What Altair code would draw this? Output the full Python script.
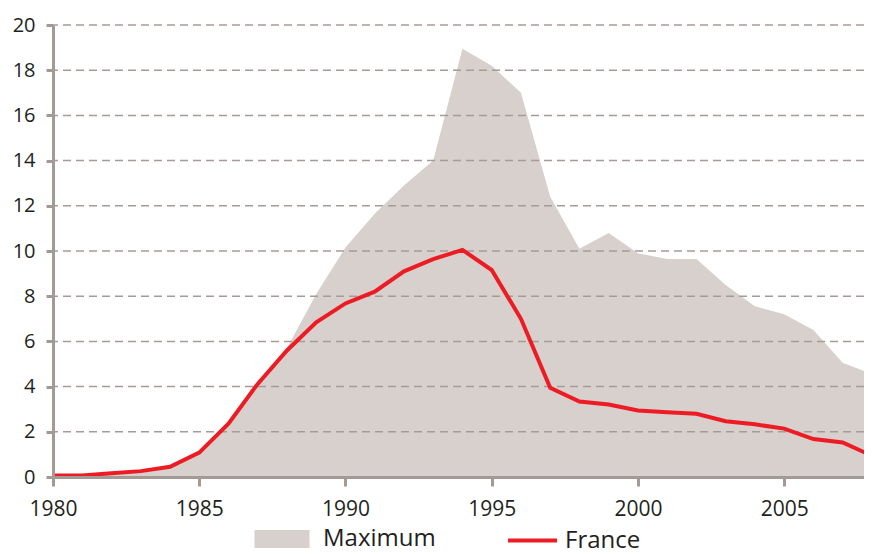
import altair as alt
import pandas as pd

years = list(range(1980, 2009))
france = [0.07, 0.07, 0.17, 0.26, 0.45, 1.08, 2.36, 4.12, 5.6, 6.84, 7.68, 8.2, 9.1, 9.64,
          10.05, 9.16, 7.0, 3.95, 3.34, 3.21, 2.94, 2.87, 2.8, 2.47, 2.33, 2.14, 1.68, 1.53, 0.94]
maximum = [0.07, 0.07, 0.17, 0.26, 0.45, 1.08, 2.36, 4.12, 5.7, 8.1, 10.15, 11.65, 12.9, 14.0,
           18.95, 18.2, 17.0, 12.4, 10.1, 10.8, 9.9, 9.65, 9.65, 8.5, 7.55, 7.2, 6.5, 5.05, 4.56]
x_ticks = [1980, 1985, 1990, 1995, 2000, 2005]
y_ticks = [0, 2, 4, 6, 8, 10, 12, 14, 16, 18, 20]

FONT = "Open Sans"
TXT = "#231f20"
AXIS_C = "#a39a96"

df_max = pd.DataFrame({"year": years, "value": maximum, "series": "Maximum"})
df_fr = pd.DataFrame({"year": years, "value": france, "series": "France"})
df_grid = pd.DataFrame({"v": [t for t in y_ticks if t > 0]})

# the reference crops the last few pixels of 2008 at the right edge
xscale = alt.Scale(domain=[1980, 2007.73], nice=False, zero=False)
yscale = alt.Scale(domain=[0, 20], nice=False)

xaxis = alt.Axis(values=x_ticks, format="d", title=None, grid=False,
                 domainColor=AXIS_C, domainWidth=3, tickColor=AXIS_C, tickWidth=3,
                 tickSize=9, labelPadding=12, labelFont=FONT, labelFontSize=21,
                 labelColor=TXT, zindex=1, labelFlush=False)
yaxis = alt.Axis(values=y_ticks, title=None, grid=False,
                 domainColor=AXIS_C, domainWidth=3, tickColor=AXIS_C, tickWidth=3,
                 tickSize=7, labelPadding=11, labelFont=FONT, labelFontSize=20,
                 labelColor=TXT, zindex=1)

area = alt.Chart(df_max).mark_area(opacity=1, clip=True).encode(
    x=alt.X("year:Q", scale=xscale, axis=xaxis),
    y=alt.Y("value:Q", scale=yscale, axis=yaxis),
    fill=alt.Fill("series:N", scale=alt.Scale(domain=["Maximum"], range=["#d7d0cd"]),
                  legend=alt.Legend(title=None, orient="none", legendX=211, legendY=496,
                                    symbolType="M-1.53,-0.5H1.53V0.5H-1.53Z",
                                    symbolSize=1296, symbolOpacity=1, symbolStrokeWidth=0,
                                    labelOffset=23, labelFont=FONT, labelFontSize=24,
                                    labelColor=TXT, padding=0)),
)

grid = alt.Chart(df_grid).mark_rule(color="#a59c98", strokeWidth=1.5, strokeDash=[8, 5]).encode(
    y=alt.Y("v:Q", scale=yscale, axis=yaxis)
)

line = alt.Chart(df_fr).mark_line(strokeWidth=4, strokeJoin="miter", clip=True).encode(
    x=alt.X("year:Q", scale=xscale, axis=xaxis),
    y=alt.Y("value:Q", scale=yscale, axis=yaxis),
    stroke=alt.Stroke("series:N", scale=alt.Scale(domain=["France"], range=["#ed1c24"]),
                      legend=alt.Legend(title=None, orient="none", legendX=453, legendY=489,
                                        symbolType="stroke", symbolSize=2401,
                                        symbolStrokeWidth=4, labelOffset=6,
                                        labelFont=FONT, labelFontSize=24,
                                        labelColor=TXT, padding=0)),
)

chart = alt.layer(area, grid, line).properties(
    width=811, height=452,
    autosize=alt.AutoSizeParams(type="none"),
    padding={"left": 45, "top": 17, "right": 0, "bottom": 77},
).configure_view(stroke=None)

chart.save("out.html", embed_options={"renderer": "svg", "actions": False})
